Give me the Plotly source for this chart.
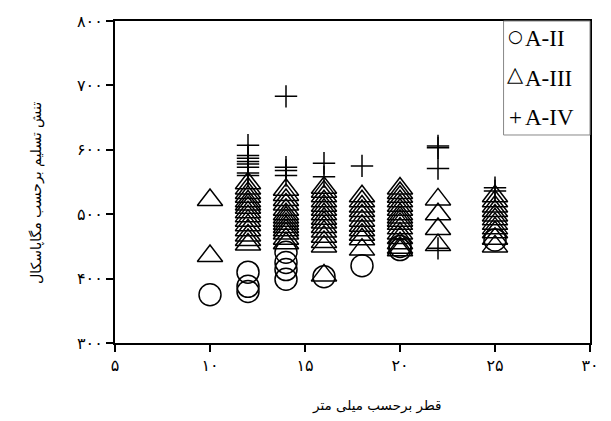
import plotly.graph_objects as go

# A-II (circles)
a2_x = [10, 12, 12, 12, 14, 14, 14, 14, 16, 18, 20, 20, 25]
a2_y = [375, 410, 388, 380, 441, 425, 414, 399, 403, 420, 445, 450, 460]

# A-III (triangles)
a3_x = ([10] * 2 + [12] * 15 + [14] * 14 + [16] * 15 + [18] * 11 + [20] * 16 + [22] * 4 + [25] * 11)
a3_y = ([522, 435] +
        [548, 540, 533, 527, 520, 515, 510, 503, 497, 490, 483, 475, 467, 460, 453] +
        [538, 530, 522, 515, 507, 500, 495, 490, 485, 480, 475, 470, 462, 455] +
        [541, 535, 528, 520, 513, 507, 500, 493, 487, 480, 473, 465, 457, 450, 405] +
        [528, 520, 512, 505, 498, 490, 482, 475, 468, 461, 445] +
        [540, 533, 527, 520, 513, 507, 500, 495, 490, 485, 478, 470, 463, 455, 448, 444] +
        [523, 500, 477, 452] +
        [528, 520, 512, 505, 498, 492, 485, 478, 472, 462, 450])

# A-IV (plus)
a4_x = [12] * 8 + [14] * 4 + [16] * 2 + [18] + [22] * 4 + [25] * 2
a4_y = ([607, 591, 587, 582, 578, 573, 564, 560] +
        [683, 573, 568, 560] +
        [579, 558] +
        [575] +
        [606, 603, 571, 447] +
        [541, 536])

series_names = ["A-II", "A-III", "A-IV"]
legend_symbols = ["○", "△", "+"]

x_ticks = [5, 10, 15, 20, 25, 30]
x_labels = ["۵", "۱۰", "۱۵", "۲۰", "۲۵", "۳۰"]
y_ticks = [300, 400, 500, 600, 700, 800]
y_labels = ["۳۰۰", "۴۰۰", "۵۰۰", "۶۰۰", "۷۰۰", "۸۰۰"]

x_title = "قطر برحسب میلی متر"
y_title = "تنش تسلیم برحسب مگاپاسکال"

fig = go.Figure()
fig.add_trace(go.Scatter(x=a2_x, y=a2_y, mode="markers", name=series_names[0],
                         marker=dict(symbol="circle-open", size=22, color="black",
                                     line=dict(width=1.5, color="black"))))
fig.add_trace(go.Scatter(x=a3_x, y=a3_y, mode="markers", name=series_names[1],
                         marker=dict(symbol="triangle-up-open", size=22, color="black",
                                     line=dict(width=1.5, color="black"))))
fig.add_trace(go.Scatter(x=a4_x, y=a4_y, mode="markers", name=series_names[2],
                         marker=dict(symbol="cross-thin-open", size=16, color="black",
                                     line=dict(width=1.5, color="black"))))

# legend (drawn as text + box)
legend_y = [0.946, 0.822, 0.700]
symbol_sizes = [17, 21, 23]
symbol_dy = [0.008, 0.014, 0.0]
symbol_fonts = ["DejaVu Sans", "DejaVu Sans", "Liberation Serif"]
annotations = []
for sym, nm, ly, ss, sf, dy in zip(legend_symbols, series_names, legend_y,
                                   symbol_sizes, symbol_fonts, symbol_dy):
    annotations.append(dict(text=sym, xref="paper", yref="paper", x=0.843, y=ly + dy,
                            xanchor="center", yanchor="middle", showarrow=False,
                            font=dict(size=ss, family=sf, color="black")))
    annotations.append(dict(text=nm, xref="paper", yref="paper", x=0.858, y=ly,
                            xanchor="left", yanchor="middle", showarrow=False,
                            font=dict(size=23, family="Liberation Serif", color="black")))

annotations += [
    dict(text=x_title, xref="paper", yref="paper", x=0.55, y=-0.194,
         xanchor="center", yanchor="middle", showarrow=False,
         font=dict(size=13.5, family="DejaVu Sans")),
    dict(text=y_title, xref="paper", yref="paper", x=-0.165, y=0.465,
         xanchor="center", yanchor="middle", showarrow=False, textangle=-90,
         font=dict(size=14, family="DejaVu Sans")),
]

fig.update_layout(
    width=611, height=421,
    margin=dict(l=115, r=18, t=13, b=78),
    plot_bgcolor="white", paper_bgcolor="white",
    font=dict(family="DejaVu Sans", color="black", size=14),
    showlegend=False,
    xaxis=dict(range=[5, 30], tickvals=x_ticks, ticktext=x_labels,
               showgrid=False, zeroline=False, showline=True, linecolor="black",
               linewidth=2, mirror=True, ticks="outside", ticklen=7, tickwidth=2,
               tickcolor="black", tickfont=dict(size=16, family="DejaVu Sans")),
    yaxis=dict(range=[300, 800], tickvals=y_ticks, ticktext=y_labels,
               showgrid=False, zeroline=False, showline=True, linecolor="black",
               linewidth=2, mirror=True, ticks="outside", ticklen=7, tickwidth=2,
               tickcolor="black", tickfont=dict(size=16, family="DejaVu Sans")),
    shapes=[dict(type="rect", xref="paper", yref="paper", x0=0.818, x1=1.0, y0=0.646, y1=1.0,
                 line=dict(color="#888888", width=1), fillcolor="rgba(0,0,0,0)", layer="above")],
    annotations=annotations,
)

fig.write_html("out.html")
